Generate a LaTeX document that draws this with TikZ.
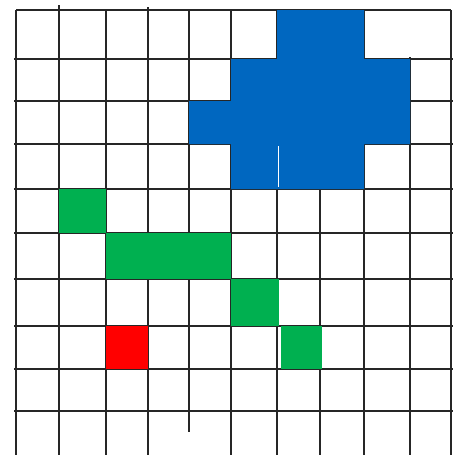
\documentclass[tikz,border=0pt]{standalone}
\definecolor{cellblue}{RGB}{0,103,192}
\definecolor{cellgreen}{RGB}{0,176,80}
\definecolor{cellred}{RGB}{255,0,0}
\tikzset{
  gridline/.style={draw=black!85, line width=2pt},
  bluefill/.style={fill=cellblue},
  greenfill/.style={fill=cellgreen},
  redfill/.style={fill=cellred},
}
\begin{document}
\begin{tikzpicture}[x=1pt,y=-1pt]
\useasboundingbox (0,0) rectangle (456,455);
\fill[white] (0,0) rectangle (456,455);
% horizontal lines
\draw[gridline] (16,10) -- (451,10);
\foreach \y in {59,101,144,189,233,279,326,369,411}
  \draw[gridline] (14,\y) -- (453,\y);
% vertical lines
\draw[gridline] (16,10) -- (16,455);
\draw[gridline] (59,5) -- (59,455);
\draw[gridline] (106,10) -- (106,455);
\draw[gridline] (148,7) -- (148,455);
\draw[gridline] (189,10) -- (189,432);
\foreach \x in {231,277,320,364,451}
  \draw[gridline] (\x,10) -- (\x,455);
\draw[gridline] (410,57) -- (410,455);
% blue shape
\fill[bluefill] (277,10) -- (364,10) -- (364,59) -- (410,59) -- (410,144)
  -- (364,144) -- (364,189) -- (231,189) -- (231,144) -- (189,144)
  -- (189,101) -- (231,101) -- (231,59) -- (277,59) -- cycle;
\draw[white, line width=1pt] (278.5,146) -- (278.5,187);
% green cells
\fill[greenfill] (59,189) rectangle (106,233);
\fill[greenfill] (106,233) rectangle (231,279);
\fill[greenfill] (231,279) rectangle (279,326);
\fill[greenfill] (281,326) rectangle (322,369);
% red cell
\fill[redfill] (106,326) rectangle (148,369);
\end{tikzpicture}
\end{document}
